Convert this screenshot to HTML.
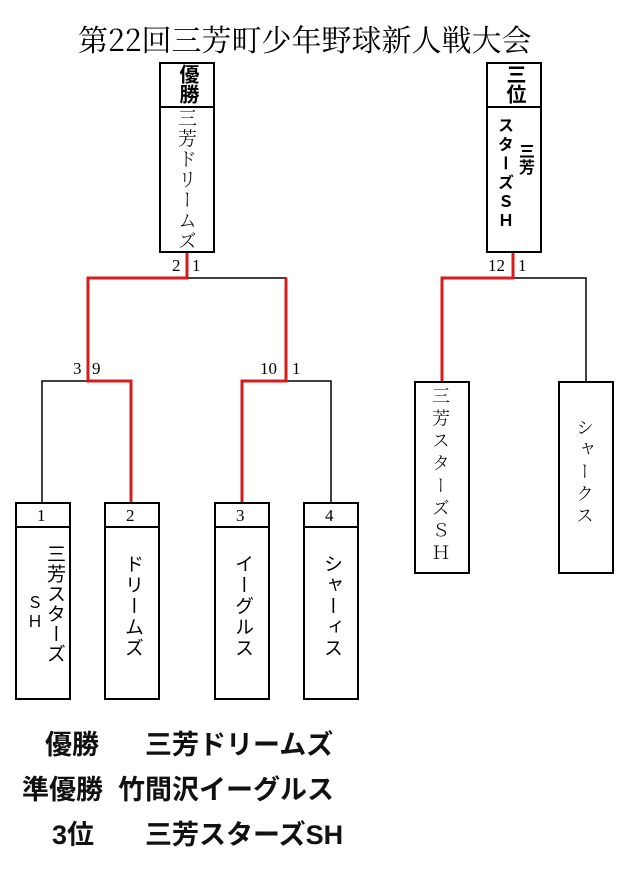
<!DOCTYPE html>
<html><head><meta charset="utf-8"><style>
body{margin:0;width:640px;height:869px;background:#fff;position:relative;overflow:hidden}
.a{position:absolute}
.box{position:absolute;border:2px solid #000;box-sizing:border-box;background:#fff}
.v{writing-mode:vertical-rl;text-orientation:upright;position:absolute;white-space:nowrap}
.serif{font-family:"Liberation Serif","Noto Serif CJK SC",serif}
.sans{font-family:"Liberation Sans","Noto Sans CJK JP",sans-serif}
.num{position:absolute;font-family:"Liberation Serif",serif;font-size:17px;line-height:17px}
.bt{position:absolute;font-family:"Liberation Sans","Noto Sans CJK JP",sans-serif;font-size:27px;line-height:30px;font-weight:bold;color:#111}
</style></head><body>
<div class="a serif" style="left:78px;top:20px;font-size:30px;line-height:36px;font-family:'Noto Serif CJK SC',serif">第22回三芳町少年野球新人戦大会</div>
<svg class="a" style="left:0;top:0" width="640" height="869">
<g fill="none" stroke="#000" stroke-width="1.5">
<path d="M187 278H286V381"/>
<path d="M42 502V381H88"/>
<path d="M286 381H331V502"/>
<path d="M513 278H586V381"/>
</g>
<g fill="none" stroke="#d41c1c" stroke-width="3">
<path d="M187 252V278H88V381H131V502"/>
<path d="M286 278V381H242V502"/>
<path d="M513 252V278H442V381"/>
<path d="M88 381V370"/>
</g>
</svg>
<!-- winner -->
<div class="box" style="left:159px;top:62px;width:56px;height:191px"></div>
<div class="a" style="left:159px;top:106px;width:56px;height:2px;background:#000"></div>
<div class="v sans" style="left:176px;top:64px;font-size:20px;font-weight:bold;line-height:22px">優勝</div>
<div class="v serif" style="left:177px;top:108px;font-size:19px;line-height:20px;letter-spacing:1.5px;font-family:'Noto Serif CJK SC',serif;font-weight:300">三芳ドリームズ</div>
<!-- third -->
<div class="box" style="left:486px;top:62px;width:56px;height:191px"></div>
<div class="a" style="left:486px;top:106px;width:56px;height:2px;background:#000"></div>
<div class="v sans" style="left:503px;top:64px;font-size:20px;font-weight:bold;line-height:22px">三位</div>
<div class="v sans" style="left:515px;top:143px;font-size:16px;font-weight:bold;line-height:18px">三芳</div>
<div class="v sans" style="left:494px;top:117px;font-size:16px;line-height:18px;letter-spacing:3px;font-weight:bold">スターズＳＨ</div>
<div class="num" style="left:172px;top:257px">2</div><div class="num" style="left:192px;top:257px">1</div>
<div class="num" style="left:488px;top:257px">12</div><div class="num" style="left:518px;top:257px">1</div>
<div class="num" style="left:73px;top:360px">3</div><div class="num" style="left:92px;top:360px">9</div>
<div class="num" style="left:260px;top:360px">10</div><div class="num" style="left:292px;top:360px">1</div>
<!-- team boxes -->
<div class="box" style="left:15px;top:502px;width:56px;height:198px"></div>
<div class="box" style="left:104px;top:502px;width:56px;height:198px"></div>
<div class="box" style="left:214px;top:502px;width:56px;height:198px"></div>
<div class="box" style="left:303px;top:502px;width:56px;height:198px"></div>
<div class="a" style="left:15px;top:526px;width:56px;height:2px;background:#000"></div>
<div class="a" style="left:104px;top:526px;width:56px;height:2px;background:#000"></div>
<div class="a" style="left:214px;top:526px;width:56px;height:2px;background:#000"></div>
<div class="a" style="left:303px;top:526px;width:56px;height:2px;background:#000"></div>
<div class="num" style="left:37px;top:507px">1</div>
<div class="num" style="left:126px;top:507px">2</div>
<div class="num" style="left:236px;top:507px">3</div>
<div class="num" style="left:325px;top:507px">4</div>
<div class="v sans" style="left:43px;top:544px;font-size:19px;line-height:22px;letter-spacing:1px">三芳スターズ</div>
<div class="v sans" style="left:23px;top:594px;font-size:16px;line-height:18px;letter-spacing:3px">ＳＨ</div>
<div class="v sans" style="left:121px;top:554px;font-size:19px;line-height:22px;letter-spacing:2px">ドリームズ</div>
<div class="v sans" style="left:231px;top:554px;font-size:19px;line-height:22px;letter-spacing:2px">イーグルス</div>
<div class="v sans" style="left:320px;top:554px;font-size:19px;line-height:22px;letter-spacing:2px">シャーィス</div>
<!-- third round boxes -->
<div class="box" style="left:414px;top:381px;width:56px;height:193px"></div>
<div class="box" style="left:558px;top:381px;width:56px;height:193px"></div>
<div class="v" style="left:431px;top:386px;font-size:18px;line-height:20px;letter-spacing:4.5px;font-family:'Noto Serif CJK SC',serif;font-weight:300">三芳スターズＳＨ</div>
<div class="v" style="left:575px;top:418px;font-size:18px;line-height:20px;letter-spacing:4px;font-family:'Noto Serif CJK SC',serif;font-weight:300">シャークス</div>
<!-- bottom results -->
<div class="bt" style="left:45px;top:730px">優勝</div>
<div class="bt" style="left:145px;top:730px">三芳ドリームズ</div>
<div class="bt" style="left:22px;top:775px">準優勝</div>
<div class="bt" style="left:118px;top:775px">竹間沢イーグルス</div>
<div class="bt" style="left:52px;top:820px">3位</div>
<div class="bt" style="left:145px;top:820px">三芳スターズSH</div>
</body></html>
